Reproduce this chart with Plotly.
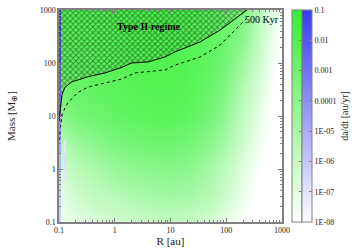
import plotly.graph_objects as go
import numpy as np

# grid for the outward migration-rate field (log10 da/dt, au/yr)
R_grid = [0.1, 0.2, 0.5, 1, 2, 5, 10, 20, 50, 100, 200, 500, 1000]
M_grid = [0.1, 0.3, 1, 3, 10, 30, 100, 300, 1000]
log_dadt_out = [
    [-7.4, -7.1, -6.7, -6.4, -6.2, -6.0, -5.9, -6.0, -6.5, -7.2, -7.9, -8.5, -8.5],
    [-7.1, -6.4, -5.8, -5.5, -5.2, -4.9, -4.8, -4.9, -5.4, -6.4, -7.4, -8.5, -8.5],
    [-6.6, -5.6, -5.0, -4.5, -4.2, -4.0, -3.9, -4.1, -4.8, -5.8, -7.0, -8.2, -8.5],
    [-5.6, -4.6, -4.0, -3.6, -3.3, -3.1, -3.1, -3.3, -4.0, -5.0, -6.4, -7.9, -8.5],
    [-4.0, -3.4, -3.0, -2.7, -2.5, -2.3, -2.3, -2.5, -3.3, -4.3, -5.9, -7.6, -8.5],
    [-3.2, -2.8, -2.6, -2.4, -2.2, -2.1, -2.1, -2.2, -2.9, -3.8, -5.4, -7.3, -8.5],
    [-2.6, -2.4, -2.3, -2.2, -2.1, -2.0, -2.0, -2.1, -2.6, -3.4, -4.7, -6.9, -8.5],
    [-2.4, -2.3, -2.2, -2.1, -2.0, -1.9, -1.9, -2.0, -2.4, -3.0, -4.0, -6.6, -8.2],
    [-2.2, -2.1, -2.0, -1.9, -1.9, -1.8, -1.8, -1.9, -2.2, -2.7, -3.5, -6.2, -7.9],
]

# inward-migration (blue) patches: cell edges in R and M and their values
R_in_edges = [0.1, 0.1085, 0.122, 0.134]
M_in_edges = [0.1, 0.3, 0.6, 1, 2, 3.5, 10, 30, 100, 300, 1000]
nan = float("nan")
log_dadt_in = [
    [-6.3, nan, nan],
    [-6.0, nan, nan],
    [-5.7, nan, -7.1],
    [-5.3, nan, -6.7],
    [-4.9, nan, -7.0],
    [-4.3, nan, nan],
    [-3.6, nan, nan],
    [-2.9, nan, nan],
    [-2.2, nan, nan],
    [-1.6, nan, nan],
]

# Type II boundary and 500 Kyr contour
typeII_R = [0.1, 0.104, 0.113, 0.128, 0.17, 0.33, 0.67, 1.35, 2.0, 4.0, 8, 12, 34, 78, 190, 235]
typeII_M = [8, 12, 25, 35, 44, 55, 65, 83, 100, 105, 130, 162, 250, 420, 840, 1000]
kyr_R = [0.1, 0.113, 0.128, 0.145, 0.22, 0.33, 0.67, 1.35, 2.3, 4, 8, 12, 34, 78, 200, 245]
kyr_M = [3.5, 10.5, 14, 18, 28, 35, 42, 50, 65, 68, 74, 91, 130, 218, 590, 740]

cb_vals = [-8, -7, -6, -5, -4, -3, -2, -1]
cb_text = ["1E-08", "1E-07", "1E-06", "1E-05", "0.0001", "0.001", "0.01", "0.1"]
ticks_vals = [0.1, 1, 10, 100, 1000]
tick_text = ["0.1", "1", "10", "100", "1000"]

lg = lambda a: [np.log10(v) for v in a]
minor_vals = [np.log10(k * 10.0 ** d) for d in range(-1, 3) for k in range(2, 10)]

FONT = "Liberation Serif"
AX = "#808080"
TXT = "#222222"

fig = go.Figure()

fig.add_trace(go.Heatmap(
    x=lg(R_grid), y=lg(M_grid), z=log_dadt_out, zsmooth="best",
    zmin=-8, zmax=-1,
    colorscale=[[0, "#ffffff"], [1, "#33f033"]],
    colorbar=dict(
        x=1.045, xanchor="left", xpad=0, ypad=0, y=0.5, len=1, lenmode="fraction",
        thickness=10, thicknessmode="pixels",
        outlinecolor=AX, outlinewidth=1,
        tickvals=cb_vals, showticklabels=False, ticks="inside", ticklen=3,
        tickcolor=AX,
    ),
    hoverinfo="skip",
))

fig.add_trace(go.Heatmap(
    x=lg(R_in_edges), y=lg(M_in_edges), z=log_dadt_in, zsmooth=False,
    zmin=-8, zmax=-1,
    colorscale=[[0, "#ffffff"], [1, "#3a3aee"]],
    colorbar=dict(
        x=1.09, xanchor="left", xpad=0, ypad=0, y=0.5, len=1, lenmode="fraction",
        thickness=10, thicknessmode="pixels",
        outlinecolor=AX, outlinewidth=1,
        tickvals=cb_vals, ticktext=cb_text, ticks="inside", ticklen=3,
        tickcolor=AX, ticklabeloverflow="allow",
        tickfont=dict(family=FONT, size=8, color=TXT),
        title=dict(text="da/dt [au/yr]", side="right",
                   font=dict(family=FONT, size=10, color=TXT)),
    ),
    hoverinfo="skip",
))

# hatched Type II region
poly_R = typeII_R + [0.1]
poly_M = typeII_M + [1000]
fig.add_trace(go.Scatter(
    x=lg(poly_R), y=lg(poly_M), mode="none", fill="toself",
    fillcolor="rgba(0,0,0,0)",
    fillpattern=dict(shape="x", size=4, solidity=0.45, fgcolor="rgba(0,0,0,0.85)",
                     bgcolor="rgba(0,0,0,0)"),
    showlegend=False, hoverinfo="skip",
))
fig.add_trace(go.Scatter(
    x=lg(typeII_R), y=lg(typeII_M), mode="lines",
    line=dict(color="black", width=1), showlegend=False, hoverinfo="skip",
))
fig.add_trace(go.Scatter(
    x=lg(kyr_R), y=lg(kyr_M), mode="lines",
    line=dict(color="black", width=1, dash="dot"), showlegend=False, hoverinfo="skip",
))

fig.add_annotation(x=0.61, y=2.68, text="<b>Type II regime</b>",
                   showarrow=False, font=dict(family=FONT, size=10, color="black"))
fig.add_annotation(x=2.985, y=2.83, xanchor="right", text="500 Kyr",
                   showarrow=False, font=dict(family=FONT, size=10, color="black"))

axis_common = dict(
    showgrid=False, zeroline=False,
    showline=True, linecolor=AX, linewidth=1.5, mirror="ticks",
    ticks="inside", ticklen=4, tickcolor=AX,
    tickfont=dict(family=FONT, size=8, color=TXT),
    ticklabeloverflow="allow",
    minor=dict(tickmode="array", tickvals=minor_vals, ticks="inside", ticklen=2,
               tickcolor=AX),
    range=[-1, 3],
    tickmode="array", tickvals=lg(ticks_vals), ticktext=tick_text,
)
fig.update_xaxes(title=dict(text="R [au]", font=dict(family=FONT, size=11, color=TXT),
                            standoff=3),
                 **axis_common)
fig.update_yaxes(title=dict(text="Mass [M<sub>⊕</sub>]",
                            font=dict(family=FONT, size=11, color=TXT), standoff=22),
                 **axis_common)

fig.update_layout(
    width=357, height=250,
    margin=dict(l=59, r=75, t=10, b=28, autoexpand=False),
    plot_bgcolor="white", paper_bgcolor="white",
    showlegend=False,
)

# remove the default 8px page margin so the figure sits at the window origin
fig.write_html("out.html", config={"displayModeBar": False},
               post_script="document.body.style.margin='0';")
